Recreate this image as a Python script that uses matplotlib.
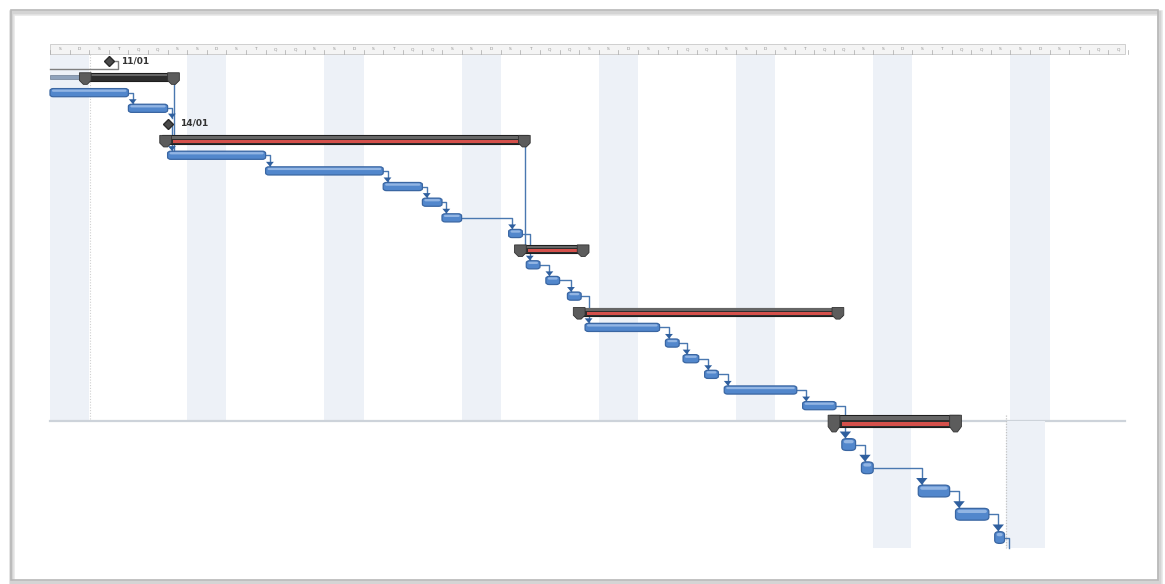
import matplotlib
matplotlib.use("Agg")
import matplotlib.pyplot as plt
from matplotlib.patches import Rectangle, FancyBboxPatch, Polygon

# ---- data (days from the first Saturday) ----
kinds = ["summary", "task", "task", "milestone", "summary",
         "task", "task", "task", "task", "task", "task",
         "summary", "task", "task", "task",
         "summary", "task", "task", "task", "task", "task", "task",
         "summary", "task", "task", "task", "task", "task"]
starts = [1.9, 0.0, 4.0, 6.0, 6.0,
          6.0, 11.0, 17.0, 19.0, 20.0, 23.4,
          24.1, 24.3, 25.3, 26.4,
          27.1, 27.3, 31.4, 32.3, 33.4, 34.4, 38.4,
          40.1, 40.4, 41.4, 44.3, 46.2, 48.2]
finishes = [6.2, 4.0, 6.0, 6.0, 24.1,
            11.0, 17.0, 19.0, 20.0, 21.0, 24.1,
            27.1, 25.0, 26.0, 27.1,
            40.1, 31.1, 32.1, 33.1, 34.1, 38.1, 40.1,
            46.1, 41.1, 42.0, 45.9, 47.9, 48.7]
critical = [False, False, False, False, True,
            False, False, False, False, False, False,
            True, False, False, False,
            True, False, False, False, False, False, False,
            True, False, False, False, False, False]
milestone_labels = {3: "14/01"}
first_milestone = 3.0
first_milestone_label = "11/01"
day_letters = ["S", "D", "S", "T", "Q", "Q", "S"]
n_days = 55

# ---- layout ----
W, H = 1165, 584
px_day = 19.6
px_row = 15.65
x0_px, y0_px = 50, 77
fig = plt.figure(figsize=(W / 100, H / 100), dpi=100)
fig.patch.set_facecolor("white")
ax = fig.add_axes([0, 0, 1, 1])
ax.set_xlim(-x0_px / px_day, (W - x0_px) / px_day)
ax.set_ylim((H - y0_px) / px_row, -y0_px / px_row)
ax.axis("off")
asp = px_day / px_row
end_day = (1125 - x0_px) / px_day


def ypos(r):
    # the rows below the 5th summary come from a larger pasted screenshot
    return r if r <= 22 else 22 + (r - 22) * 1.485


def scale(r):
    return 1.0 if r < 22 else 1.45


shade = "#edf1f7"
# weekend columns
for k in range(8):
    ax.add_patch(Rectangle((7 * k, -1.45), 2, 23.4, color=shade, lw=0, zorder=0))
for k in (6, 7):
    ax.add_patch(Rectangle((7 * k - (0.2 if k == 7 else 0), 22.0), 1.95, 8.1,
                           color=shade, lw=0, zorder=1.5))
ax.plot([2.05, 2.05], [-1.45, 21.9], color="#d0d0d0", lw=0.8, ls=(0, (1, 1.5)), zorder=0.5)
ax.plot([48.8, 48.8], [21.6, 30.1], color="#c4c4c4", lw=0.9, ls=(0, (1, 1.2)), zorder=1.6)
ax.plot([0, end_day], [22.0, 22.0], color="#cdd3da", lw=1.6, zorder=1)

# timescale header
ax.add_patch(Rectangle((0, -2.1), end_day, 0.6, facecolor="#f4f4f4",
                       edgecolor="#c8c8c8", lw=0.6, zorder=2))
for d in range(n_days + 1):
    ax.plot([d, d], [-1.75, -1.5], color="#a8a8a8", lw=0.5, zorder=2)
    if d < n_days:
        ax.text(d + 0.5, -1.78, day_letters[d % 7], fontsize=3.2, color="#909090",
                ha="center", va="center", zorder=3)

blue = "#5287cc"
blue_edge = "#3a66a2"
blue_hi = "#a9c5ec"
link_c = "#4a78b0"


def task_bar(s, f, y, sc):
    h = 0.52 * sc
    ax.add_patch(FancyBboxPatch((s, y - h / 2), f - s, h,
                                boxstyle="round,pad=0,rounding_size=%f" % (0.17 * sc),
                                mutation_aspect=1 / asp, facecolor=blue,
                                edgecolor=blue_edge, lw=0.9, zorder=5))
    ax.add_patch(FancyBboxPatch((s + 0.1, y - h / 2 + 0.06 * sc), f - s - 0.2, h * 0.28,
                                boxstyle="round,pad=0,rounding_size=%f" % (0.08 * sc),
                                mutation_aspect=1 / asp, facecolor=blue_hi,
                                edgecolor="none", alpha=0.75, zorder=6))


def summary_bar(s, f, y, crit, sc):
    hh = 0.27 * sc
    top, bot = y - hh, y + hh
    ax.add_patch(Rectangle((s - 0.3, top), f - s + 0.6, bot - top,
                           facecolor="#2e2e2e", edgecolor="#1e1e1e", lw=0.8, zorder=5))
    ax.add_patch(Rectangle((s - 0.25, top + 0.05 * sc), f - s + 0.5, 0.16 * sc,
                           facecolor="#666666", lw=0, zorder=6))
    if crit:
        ax.add_patch(Rectangle((s + 0.3, y + 0.02 * sc), f - s - 0.45, 0.17 * sc,
                               facecolor="#d4504b", lw=0, zorder=6))
    for cx in (s - 0.1, f + 0.1):
        ax.add_patch(Polygon([(cx - 0.3, top), (cx + 0.3, top), (cx + 0.3, bot - 0.05),
                              (cx + 0.1, bot + 0.2 * sc), (cx - 0.1, bot + 0.2 * sc),
                              (cx - 0.3, bot - 0.05)],
                             closed=True, facecolor="#5c5c5c", edgecolor="#333333",
                             lw=0.6, zorder=7))


def diamond(x, y):
    ax.plot([x], [y], marker="D", ms=5.5, color="#4a4a4a", mec="#2a2a2a", zorder=7)


def arrow_down(x, y_top, sc):
    ax.add_patch(Polygon([(x - 0.2 * sc, y_top - 0.3 * sc), (x + 0.2 * sc, y_top - 0.3 * sc),
                          (x, y_top)], closed=True, facecolor="#2f5f9e",
                         edgecolor="none", zorder=8))


# first row extras: grey lead-in line and link to the 11/01 milestone
ax.add_patch(Rectangle((0, -0.1), starts[0], 0.2, facecolor="#8fa2bb",
                       edgecolor="#6f7f95", lw=0.5, zorder=4))
ax.plot([0, 3.45, 3.45, 3.3], [-0.5, -0.5, -1.0, -1.0], color="#7f7f7f", lw=1.0, zorder=4)
diamond(first_milestone, -1)
ax.text(first_milestone + 0.62, -1.05, first_milestone_label, fontsize=6.5,
        fontweight="bold", color="#333333", va="center", zorder=8)

# links between consecutive non-summary rows
items = [i for i, k in enumerate(kinds) if k != "summary"]
for a, b in zip(items[:-1], items[1:]):
    ya, yb = ypos(a), ypos(b)
    sc = scale(b)
    xd = max(finishes[a] + 0.22, starts[b] + 0.18)
    ytop = yb - 0.26 * sc - (0.02 if kinds[b] != "milestone" else 0.1)
    ax.plot([finishes[a], xd, xd], [ya, ya, ytop], color=link_c, lw=1.0, zorder=4)
    arrow_down(xd, ytop, sc)
last = items[-1]
xd = finishes[last] + 0.22
ax.plot([finishes[last], xd, xd], [ypos(last), ypos(last), 30.1], color=link_c, lw=1.0, zorder=4)

# summary-to-summary links
sums = [i for i, k in enumerate(kinds) if k == "summary"]
for a, b in [(sums[0], 5), (sums[1], sums[2])]:
    x = finishes[a] + 0.15
    ax.plot([x, x], [ypos(a), ypos(b) - 0.2], color=link_c, lw=1.0, zorder=4)

for i, k in enumerate(kinds):
    y = ypos(i)
    if k == "task":
        task_bar(starts[i], finishes[i], y, scale(i))
    elif k == "summary":
        summary_bar(starts[i], finishes[i], y, critical[i], scale(i))
    else:
        diamond(starts[i], y)
        ax.text(starts[i] + 0.65, y - 0.05, milestone_labels[i], fontsize=6.5,
                fontweight="bold", color="#333333", va="center", zorder=8)

# outer frame with soft shadow
for off, c, lw in [(3, "#e6e6e6", 4), (1.5, "#d4d4d4", 2.5), (0, "#b8b8b8", 1.2)]:
    fig.add_artist(Rectangle(((11 + off * 0.3) / W, (H - 580 - off) / H),
                             (1147 + off * 0.3) / W, 570 / H, transform=fig.transFigure,
                             fill=False, edgecolor=c, lw=lw, zorder=0))

fig.savefig("out.png", dpi=100, facecolor="white")
